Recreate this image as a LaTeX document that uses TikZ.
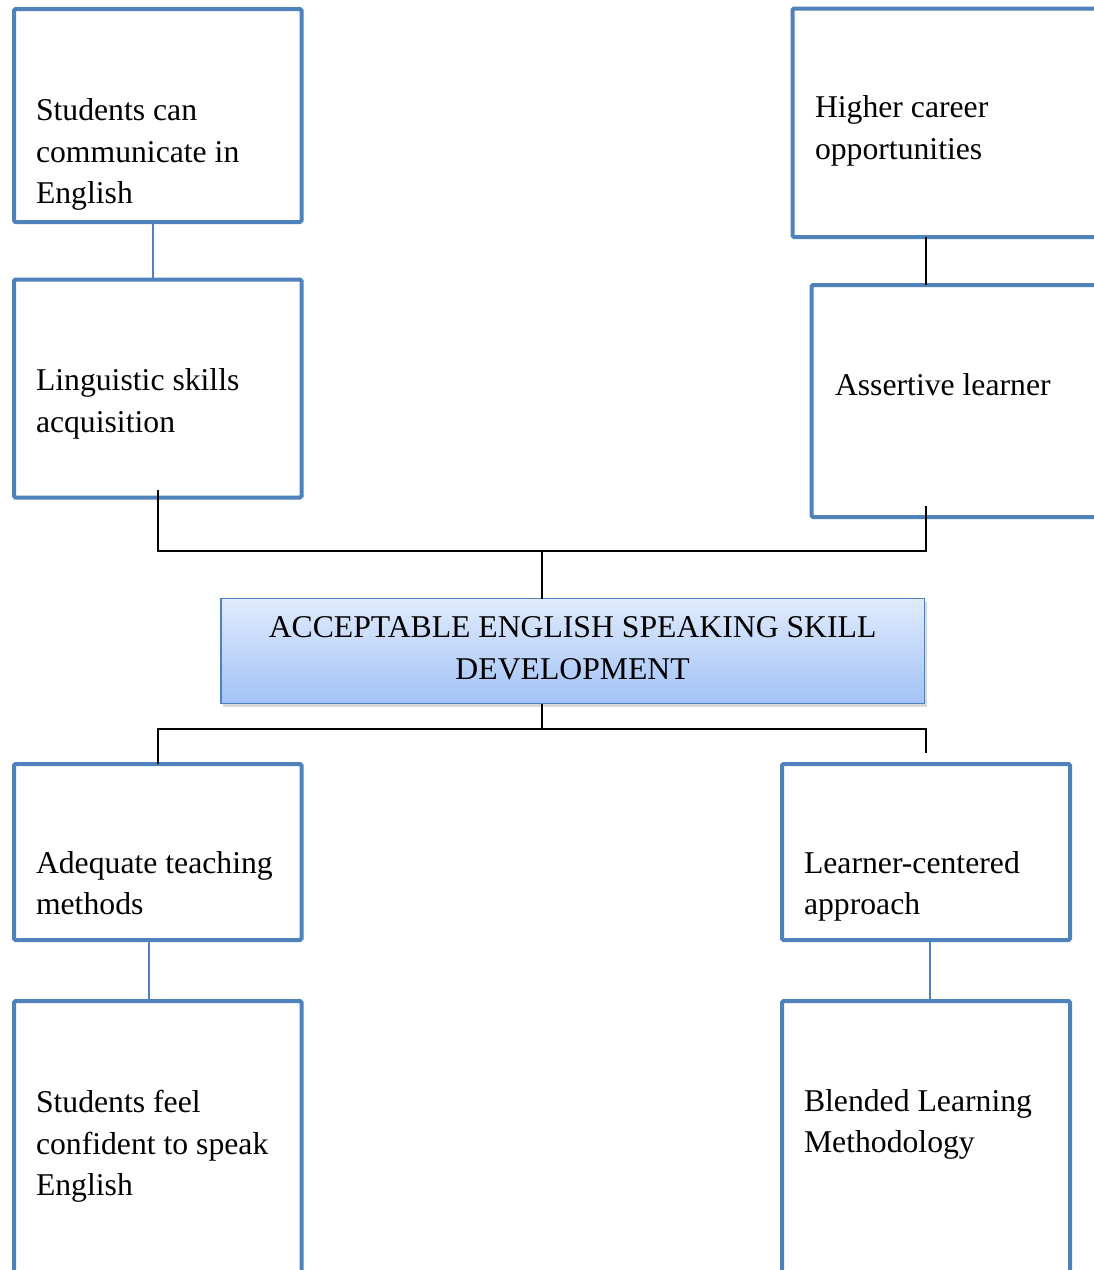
\documentclass[tikz,border=0pt]{standalone}
\usepackage{fontspec}
\setmainfont{Liberation Serif}
\usetikzlibrary{shadows,calc}
\definecolor{boxblue}{HTML}{4F81BD}
\definecolor{shadetop}{HTML}{E0EBFD}
\definecolor{shadebot}{HTML}{A3C2F6}
\begin{document}
\begin{tikzpicture}[x=1pt,y=-1pt,
  every node/.style={inner sep=0pt, outer sep=0pt},
  boxframe/.style={draw=boxblue, line width=4pt, rounded corners=1.5pt, fill=white},
  hubbox/.style={draw=boxblue, line width=1.8pt, top color=shadetop, bottom color=shadebot,
    drop shadow={shadow xshift=2.5pt, shadow yshift=-3pt, opacity=0.25, fill=black!60}},
  boxtext/.style={anchor=base west, align=left, font=\fontsize{31.7}{41.5}\selectfont},
  hubtext/.style={anchor=base, align=center, font=\fontsize{31.7}{41.3}\selectfont},
  link/.style={draw=boxblue, line width=2pt},
  tie/.style={draw=black, line width=2pt}]
\clip (0,0) rectangle (1094,1270);
\fill[white] (0,0) rectangle (1094,1270);

% outcome boxes (upper half)
\node[boxframe, minimum width=287.5pt, minimum height=213pt] (b1) at (157.75,115.5) {};
\node[boxframe, minimum width=287.5pt, minimum height=218pt] (b2) at (157.75,388.5) {};
\node[boxframe, minimum width=317.5pt, minimum height=228.5pt] (b3) at (951.25,122.75) {};
\node[boxframe, minimum width=298.5pt, minimum height=232pt] (b4) at (960.75,401) {};

% central goal
\node[hubbox, minimum width=703.6pt, minimum height=105pt] (hub) at (572.6,651) {};

% means boxes (lower half)
\node[boxframe, minimum width=287.5pt, minimum height=176pt] (b6) at (157.75,852) {};
\node[boxframe, minimum width=288pt, minimum height=176pt] (b7) at (926,852) {};
\node[boxframe, minimum width=287.5pt, minimum height=289pt] (b8) at (157.75,1145.5) {};
\node[boxframe, minimum width=288pt, minimum height=289pt] (b9) at (926,1145.5) {};

% labels (placed by the baseline of their last line)
\node[boxtext] (t1) at (36,203.5) {Students can\\communicate in\\English};
\node[boxtext] (t2) at (36,432) {Linguistic skills\\acquisition};
\node[boxtext] (t3) at (815,159) {Higher career\\opportunities};
\node[boxtext] (t4) at (835,395) {Assertive learner};
\node[hubtext] (th) at (572.6,679) {ACCEPTABLE ENGLISH SPEAKING SKILL\\DEVELOPMENT};
\node[boxtext] (t6) at (36,914.5) {Adequate teaching\\methods};
\node[boxtext] (t7) at (804,914.5) {Learner-centered\\approach};
\node[boxtext] (t8) at (36,1195.5) {Students feel\\confident to speak\\English};
\node[boxtext] (t9) at (804,1152.5) {Blended Learning\\Methodology};

% connector columns and junctions
\coordinate (lx) at (158,0);
\coordinate (mx) at (542,0);
\coordinate (rx) at (926,0);
\coordinate (hubtop) at (542,551);
\coordinate (hubbot) at (542,729.3);

% blue links between stacked boxes
\draw[link] ([xshift=-4.5pt]b1.south) -- ([xshift=-4.5pt]b2.north);
\draw[link] ([xshift=-8.75pt]b6.south) -- ([xshift=-8.75pt]b8.north);
\draw[link] ([xshift=4pt]b7.south) -- ([xshift=4pt]b9.north);

% black ties
\draw[tie] (b3.south -| rx) -- (b4.north -| rx);
\draw[tie] ($(b2.south -| lx)+(0,-7.5)$) |- (hubtop) -| ($(b4.south -| rx)+(0,-11)$);
\draw[tie] (hubtop) -- (hub.north -| hubtop);
\draw[tie] (hub.south -| hubbot) -- (hubbot);
\draw[tie] (b6.north -| lx) |- (hubbot) -| ($(b7.north -| rx)+(0,-11)$);
\end{tikzpicture}
\end{document}
